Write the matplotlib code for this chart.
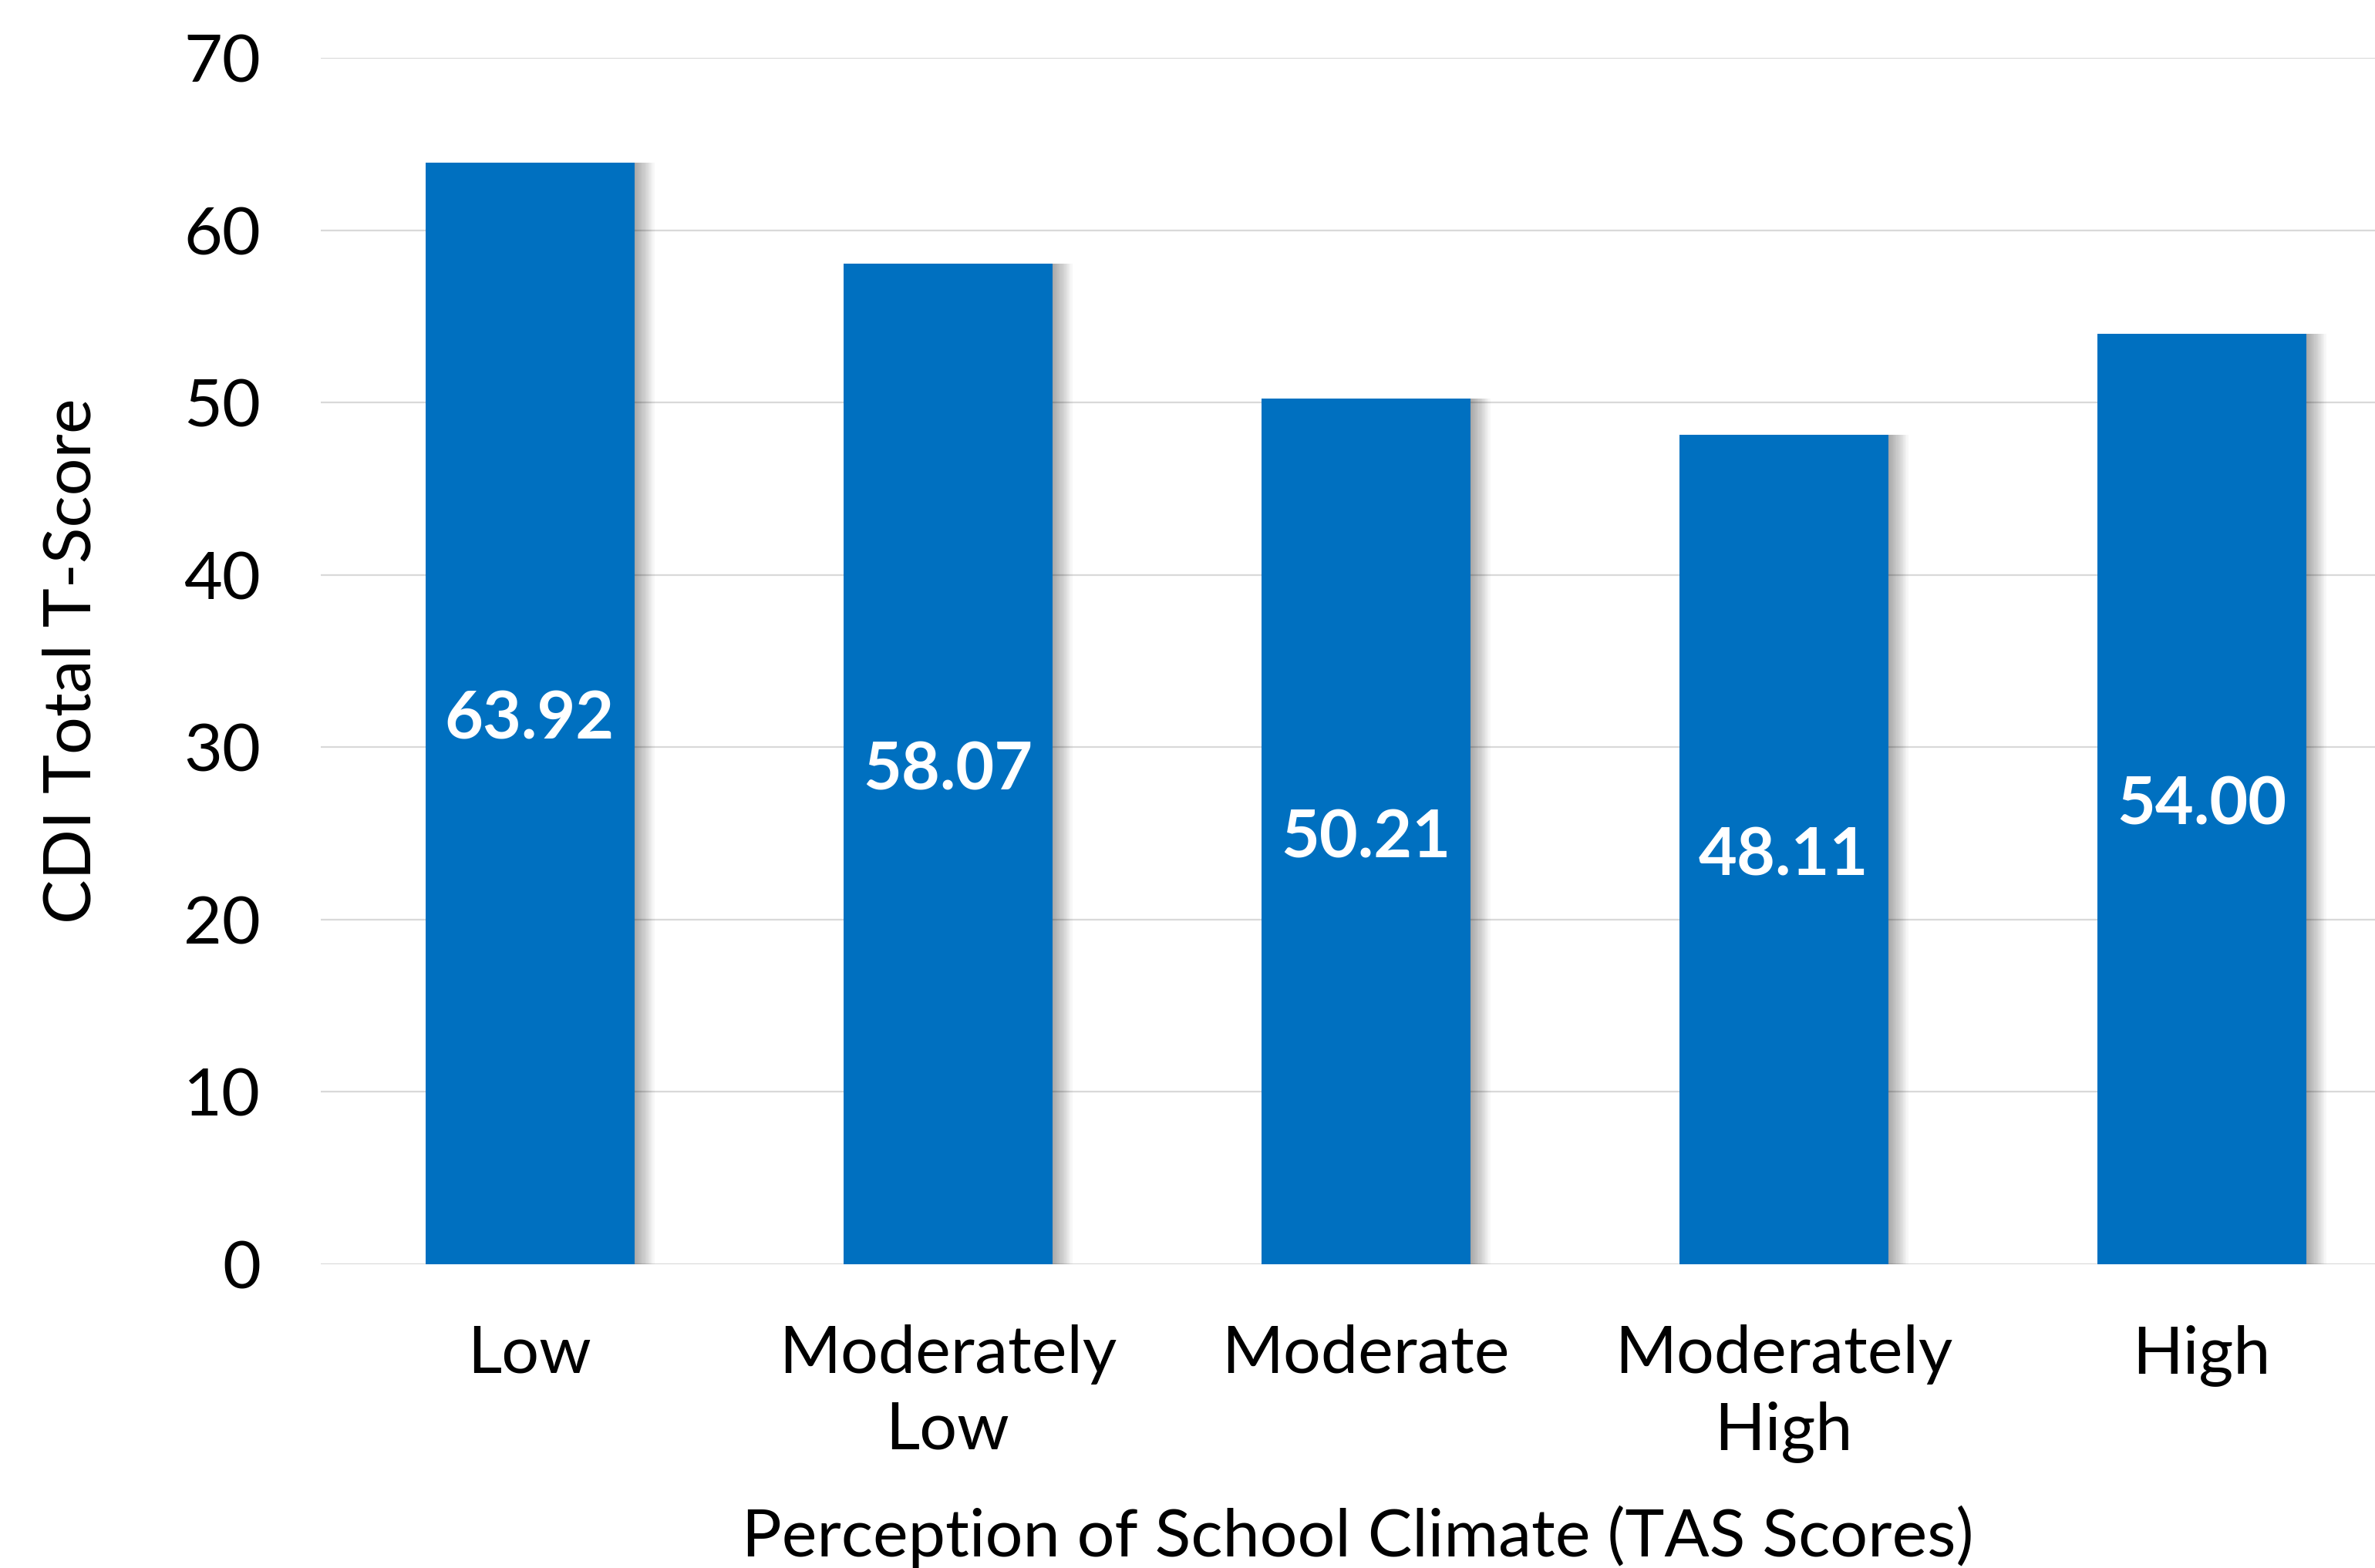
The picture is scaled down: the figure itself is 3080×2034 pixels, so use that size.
import numpy as np
import matplotlib.pyplot as plt

plt.rcParams['font.family'] = ['Lato', 'DejaVu Sans']

categories = ['Low', 'Moderately\nLow', 'Moderate', 'Moderately\nHigh', 'High']
scores = [63.92, 58.07, 50.21, 48.11, 54.00]
labels = ['63.92', '58.07', '50.21', '48.11', '54.00']

W, H, DPI = 3080, 2034, 200
fig = plt.figure(figsize=(W / DPI, H / DPI), dpi=DPI)
ax = fig.add_axes([416 / W, (H - 1640) / H, (3126 - 416) / W, (1640 - 75) / H])

x = np.arange(len(categories))
width = 0.5

# soft shadow on the right side of each bar
for k in range(1, 13):
    ax.bar(x + 0.004 * k, scores, width, color='black',
           alpha=0.03, linewidth=0, zorder=2)

ax.bar(x, scores, width, color='#0070C0', linewidth=0, zorder=3)

for xi, v, t in zip(x, scores, labels):
    ax.text(xi, v / 2 - 0.4, t, ha='center', va='center', color='white',
            fontsize=31, fontweight='bold', zorder=4)

ax.set_xlim(-0.5, 4.5)
ax.set_ylim(0, 70)
ax.set_yticks(np.arange(0, 71, 10))
ax.yaxis.grid(True, color='#D9D9D9', linewidth=0.8, zorder=0)
ax.set_axisbelow(True)
for s in ax.spines.values():
    s.set_visible(False)
ax.tick_params(axis='both', length=0, labelsize=31, colors='black')
ax.tick_params(axis='y', pad=28)
ax.tick_params(axis='x', pad=28)
ax.set_xticks(x)
ax.set_xticklabels(categories, linespacing=1.33)

ax.set_ylabel('CDI Total T-Score', fontsize=31, labelpad=38)
fig.text(1761 / W, 0, 'Perception of School Climate (TAS Scores)',
         ha='center', va='bottom', fontsize=31)

fig.savefig('out.png', dpi=DPI)
